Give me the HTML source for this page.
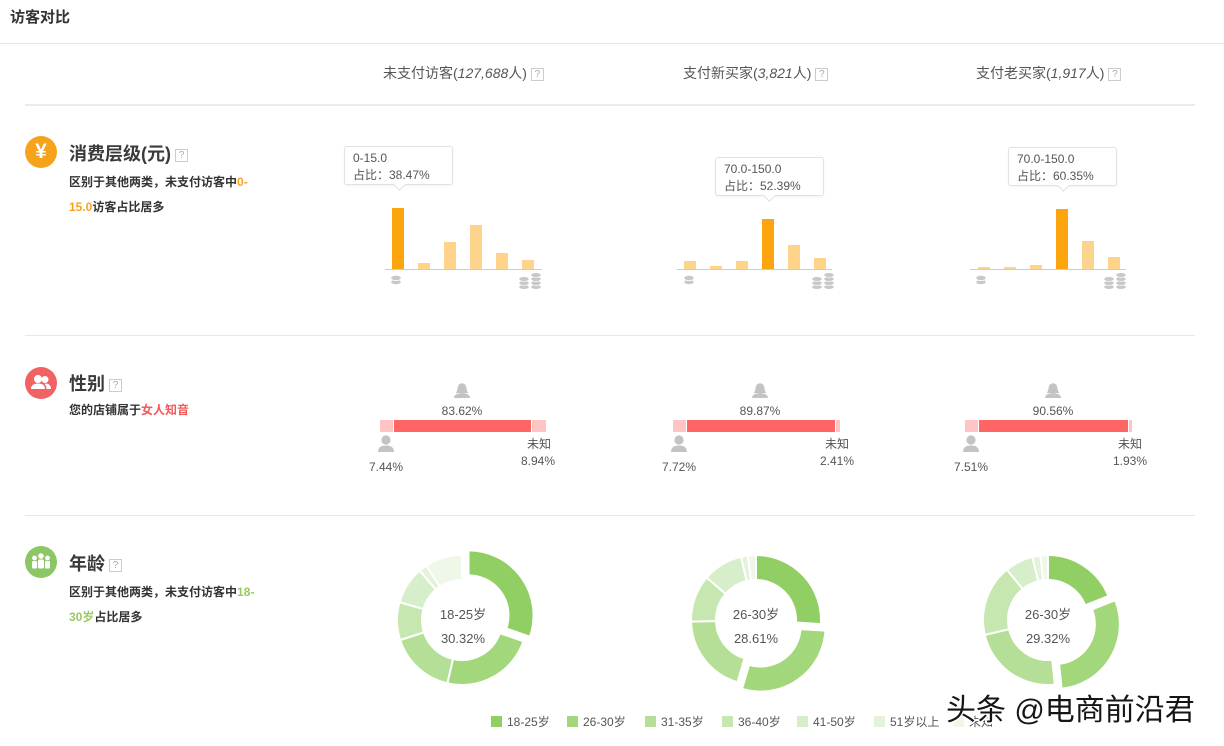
<!DOCTYPE html>
<html><head><meta charset="utf-8">
<style>
body{margin:0;width:1224px;height:746px;position:relative;background:#fff;font-family:"Liberation Sans","Noto Sans CJK SC",sans-serif;overflow:hidden;color:#555}
.a{position:absolute;white-space:nowrap}
.q{display:inline-block;width:11px;height:11px;border:1px solid #ccc;font-size:10px;line-height:11px;text-align:center;color:#aaa;vertical-align:middle;margin-left:4px;font-style:normal;font-weight:normal}
.hd{font-size:14px;line-height:16px;color:#555}
.hd i{font-style:italic}
.hr{position:absolute;left:25px;width:1170px;height:1px;background:#e8e8e8}
.ic{position:absolute;left:25px;width:32px;height:32px;border-radius:50%}
.h2{font-size:18px;line-height:22px;color:#3a3a3a;font-weight:bold}
.ds{font-size:12px;line-height:25px;color:#333;font-weight:bold}
.bar{position:absolute;width:12px;background:#fed38b}
.bar.h{background:#fca50f}
.ax{position:absolute;height:1px;background:#ccc;top:269px}
.tip{position:absolute;width:107px;height:37px;border:1px solid #e2e2e2;border-radius:3px;background:#fff;font-size:12px;line-height:17px;color:#555;padding:0;box-shadow:0 1px 2px rgba(0,0,0,0.05)}
.tip div{padding-left:8px}
.tip .pt{position:absolute;bottom:-5px;width:8px;height:8px;background:#fff;border-right:1px solid #e2e2e2;border-bottom:1px solid #e2e2e2;transform:rotate(45deg);padding:0}
.gb{position:absolute;top:420px;height:12px}
.pk{background:#ffc4c4}
.rd{background:#ff6565}
.gt{font-size:12px;line-height:14px;color:#555;text-align:center;width:60px}
.ct{font-size:13px;line-height:16px;color:#555;text-align:center;width:80px}
.lg{font-size:12px;line-height:14px;color:#555}
.sq{position:absolute;width:11px;height:11px;top:716px}
</style></head>
<body>
<div class="a" style="left:10px;top:8px;font-size:15px;line-height:20px;font-weight:bold;color:#333">访客对比</div>
<div class="a" style="left:0;top:43px;width:1224px;height:1px;background:#e6e6e6"></div>

<div class="a hd" style="left:383px;top:65px">未支付访客(<i>127,688</i>人)<span class="q">?</span></div>
<div class="a hd" style="left:683px;top:65px">支付新买家(<i>3,821</i>人)<span class="q">?</span></div>
<div class="a hd" style="left:976px;top:65px">支付老买家(<i>1,917</i>人)<span class="q">?</span></div>
<div class="hr" style="top:104px;height:2px;background:#ebebeb"></div>

<!-- Section 1 -->
<div class="ic" style="top:136px;background:#f7a21b"></div>
<div class="a" style="left:25px;top:136px;width:32px;text-align:center;font-size:21px;line-height:32px;color:#fff;font-weight:bold">¥</div>
<div class="a h2" style="left:69px;top:143px">消费层级(元)<span class="q">?</span></div>
<div class="a ds" style="left:69px;top:170px">区别于其他两类，未支付访客中<span style="color:#f7a21b">0-</span><br><span style="color:#f7a21b">15.0</span>访客占比居多</div>

<div class="ax" style="left:385px;width:157px"></div>
<div class="bar h" style="left:392px;top:208px;height:61px"></div>
<div class="bar" style="left:418px;top:263px;height:6px"></div>
<div class="bar" style="left:444px;top:242px;height:27px"></div>
<div class="bar" style="left:470px;top:225px;height:44px"></div>
<div class="bar" style="left:496px;top:253px;height:16px"></div>
<div class="bar" style="left:522px;top:260px;height:9px"></div>
<div class="tip" style="left:344px;top:146px"><div style="padding-top:3px">0-15.0</div><div>占比：38.47%</div><div class="pt" style="left:50px"></div></div>

<div class="ax" style="left:677px;width:155px"></div>
<div class="bar" style="left:684px;top:261px;height:8px"></div>
<div class="bar" style="left:710px;top:266px;height:3px"></div>
<div class="bar" style="left:736px;top:261px;height:8px"></div>
<div class="bar h" style="left:762px;top:219px;height:50px"></div>
<div class="bar" style="left:788px;top:245px;height:24px"></div>
<div class="bar" style="left:814px;top:258px;height:11px"></div>
<div class="tip" style="left:715px;top:157px"><div style="padding-top:3px">70.0-150.0</div><div>占比：52.39%</div><div class="pt" style="left:49px"></div></div>

<div class="ax" style="left:970px;width:156px"></div>
<div class="bar" style="left:978px;top:267px;height:2px"></div>
<div class="bar" style="left:1004px;top:267px;height:2px"></div>
<div class="bar" style="left:1030px;top:265px;height:4px"></div>
<div class="bar h" style="left:1056px;top:209px;height:60px"></div>
<div class="bar" style="left:1082px;top:241px;height:28px"></div>
<div class="bar" style="left:1108px;top:257px;height:12px"></div>
<div class="tip" style="left:1008px;top:147px"><div style="padding-top:3px">70.0-150.0</div><div>占比：60.35%</div><div class="pt" style="left:50px"></div></div>

<svg class="a" style="left:0;top:0" width="1224" height="300">
<defs>
<g id="c1" fill="#c8c8c8" stroke="#fff" stroke-width="0.8"><ellipse cx="5" cy="7" rx="5.2" ry="2.6"/><ellipse cx="5" cy="3" rx="5.2" ry="2.6"/></g>
<g id="c2" fill="#c8c8c8" stroke="#fff" stroke-width="0.8">
<ellipse cx="5" cy="15" rx="5.2" ry="2.4"/><ellipse cx="5" cy="11" rx="5.2" ry="2.4"/><ellipse cx="5" cy="7" rx="5.2" ry="2.4"/>
<ellipse cx="17" cy="15" rx="5.2" ry="2.4"/><ellipse cx="17" cy="11" rx="5.2" ry="2.4"/><ellipse cx="17" cy="7" rx="5.2" ry="2.4"/><ellipse cx="17" cy="3" rx="5.2" ry="2.4"/></g>
</defs>
<use href="#c1" x="391" y="275"/><use href="#c2" x="519" y="272"/>
<use href="#c1" x="684" y="275"/><use href="#c2" x="812" y="272"/>
<use href="#c1" x="976" y="275"/><use href="#c2" x="1104" y="272"/>
</svg>

<div class="hr" style="top:335px"></div>

<!-- Section 2 -->
<div class="ic" style="top:367px;background:#f26262"></div>
<svg class="a" style="left:25px;top:367px" width="32" height="32">
<circle cx="13" cy="12" r="4" fill="#fff"/><path d="M6 22 Q6 16.5 13 16.5 Q20 16.5 20 22 Z" fill="#fff"/>
<circle cx="20" cy="12.5" r="3.5" fill="#fff"/><path d="M21 16.5 Q26 17 26 22 L21.5 22 Q21.5 18.5 19.5 17 Z" fill="#fff"/>
</svg>
<div class="a h2" style="left:69px;top:373px">性别<span class="q">?</span></div>
<div class="a ds" style="left:69px;top:398px">您的店铺属于<span style="color:#f25a5a">女人知音</span></div>

<svg class="a" style="left:0;top:370px" width="1224" height="90">
<defs>
<g id="fm"><circle cx="8" cy="5.5" r="4.3" fill="#c3c3c3"/><path d="M3.5 6 Q3 10 1.5 11 L14.5 11 Q13 10 12.5 6 Z" fill="#c3c3c3"/><path d="M0 16 Q0 11.5 8 11 Q16 11.5 16 16 Z" fill="#c3c3c3"/></g>
<g id="ml"><circle cx="8" cy="5" r="4.6" fill="#c3c3c3"/><path d="M0 17 Q0 10.5 8 10.5 Q16 10.5 16 17 Z" fill="#c3c3c3"/></g>
</defs>
<use href="#fm" x="454" y="12"/><use href="#ml" x="378" y="65"/>
<use href="#fm" x="752" y="12"/><use href="#ml" x="671" y="65"/>
<use href="#fm" x="1045" y="12"/><use href="#ml" x="963" y="65"/>
</svg>

<div class="gb pk" style="left:380px;width:12.5px"></div>
<div class="gb rd" style="left:393.5px;width:137.5px"></div>
<div class="gb pk" style="left:532px;width:14px"></div>
<div class="a gt" style="left:432px;top:404px">83.62%</div>
<div class="a gt" style="left:356px;top:460px">7.44%</div>
<div class="a gt" style="left:509px;top:437px">未知</div>
<div class="a gt" style="left:508px;top:454px">8.94%</div>

<div class="gb pk" style="left:673px;width:12.8px"></div>
<div class="gb rd" style="left:686.8px;width:148.2px"></div>
<div class="gb pk" style="left:836px;width:4px"></div>
<div class="a gt" style="left:730px;top:404px">89.87%</div>
<div class="a gt" style="left:649px;top:460px">7.72%</div>
<div class="a gt" style="left:807px;top:437px">未知</div>
<div class="a gt" style="left:807px;top:454px">2.41%</div>

<div class="gb pk" style="left:965px;width:12.5px"></div>
<div class="gb rd" style="left:978.5px;width:149.5px"></div>
<div class="gb pk" style="left:1129px;width:3px"></div>
<div class="a gt" style="left:1023px;top:404px">90.56%</div>
<div class="a gt" style="left:941px;top:460px">7.51%</div>
<div class="a gt" style="left:1100px;top:437px">未知</div>
<div class="a gt" style="left:1100px;top:454px">1.93%</div>

<div class="hr" style="top:515px"></div>

<!-- Section 3 -->
<div class="ic" style="top:546px;background:#8cc665"></div>
<svg class="a" style="left:25px;top:546px" width="32" height="32">
<circle cx="16" cy="10" r="2.8" fill="#fff"/><rect x="13" y="13.5" width="6" height="9" rx="1.5" fill="#fff"/>
<circle cx="9.5" cy="12" r="2.4" fill="#fff"/><rect x="7" y="15" width="5" height="7.5" rx="1.3" fill="#fff"/>
<circle cx="22.5" cy="12" r="2.4" fill="#fff"/><rect x="20" y="15" width="5" height="7.5" rx="1.3" fill="#fff"/>
</svg>
<div class="a h2" style="left:69px;top:553px">年龄<span class="q">?</span></div>
<div class="a ds" style="left:69px;top:580px">区别于其他两类，未支付访客中<span style="color:#9bc862">18-</span><br><span style="color:#9bc862">30岁</span>占比居多</div>

<svg id="dn" class="a" style="left:0;top:0" width="1224" height="746"></svg>

<div class="a ct" style="left:423px;top:607px">18-25岁</div>
<div class="a ct" style="left:423px;top:631px">30.32%</div>
<div class="a ct" style="left:716px;top:607px">26-30岁</div>
<div class="a ct" style="left:716px;top:631px">28.61%</div>
<div class="a ct" style="left:1008px;top:607px">26-30岁</div>
<div class="a ct" style="left:1008px;top:631px">29.32%</div>

<div class="sq" style="left:491px;background:#91ce63"></div><div class="a lg" style="left:507px;top:715px">18-25岁</div>
<div class="sq" style="left:567px;background:#a3d77b"></div><div class="a lg" style="left:583px;top:715px">26-30岁</div>
<div class="sq" style="left:645px;background:#b5df96"></div><div class="a lg" style="left:661px;top:715px">31-35岁</div>
<div class="sq" style="left:722px;background:#c6e7b0"></div><div class="a lg" style="left:738px;top:715px">36-40岁</div>
<div class="sq" style="left:797px;background:#d6efca"></div><div class="a lg" style="left:813px;top:715px">41-50岁</div>
<div class="sq" style="left:874px;background:#e3f2d9"></div><div class="a lg" style="left:890px;top:715px">51岁以上</div>
<div class="sq" style="left:953px;background:#eef7e8"></div><div class="a lg" style="left:969px;top:715px">未知</div>

<div class="a" style="left:946px;top:691px;font-size:30px;line-height:40px;color:#151515;text-shadow:1px 1px 0 #fff,-1px -1px 0 #fff,1px -1px 0 #fff,-1px 1px 0 #fff,0 2px 0 #fff,2px 0 0 #fff,0 -2px 0 #fff,-2px 0 0 #fff">头条 @电商前沿君</div>

<script>
(function(){
var cols=['#91ce63','#a3d77b','#b5df96','#c6e7b0','#d6efca','#e3f2d9','#eef7e8'];
var ds=[{cx:462,cy:620,v:[30.32,23.3,16.4,9.4,9.3,2.0,9.28],e:0},
{cx:756,cy:620,v:[26.0,28.61,20.0,11.7,10.0,1.7,2.0],e:1},
{cx:1048,cy:620,v:[19.0,29.32,23.0,17.8,7.0,2.0,1.88],e:1}];
var R=65,r=40,svg=document.getElementById('dn'),ns='http://www.w3.org/2000/svg';
function pt(cx,cy,rad,a){var t=a*Math.PI/180;return [cx+rad*Math.sin(t),cy-rad*Math.cos(t)];}
ds.forEach(function(d){
var tot=d.v.reduce(function(s,x){return s+x;},0),a=0;
d.v.forEach(function(v,i){
var sw=v/tot*360,a0=a,a1=a+sw;a=a1;
var cx=d.cx,cy=d.cy;
if(i===d.e){var m=(a0+a1)/2*Math.PI/180;cx+=8*Math.sin(m);cy-=8*Math.cos(m);}
var lg=sw>180?1:0;
var p1=pt(cx,cy,R,a0),p2=pt(cx,cy,R,a1),p3=pt(cx,cy,r,a1),p4=pt(cx,cy,r,a0);
var dd='M'+p1[0]+' '+p1[1]+' A'+R+' '+R+' 0 '+lg+' 1 '+p2[0]+' '+p2[1]+' L'+p3[0]+' '+p3[1]+' A'+r+' '+r+' 0 '+lg+' 0 '+p4[0]+' '+p4[1]+' Z';
var el=document.createElementNS(ns,'path');
el.setAttribute('d',dd);el.setAttribute('fill',cols[i]);el.setAttribute('stroke','#fff');el.setAttribute('stroke-width','2');
svg.appendChild(el);
});
});
})();
</script>
</body></html>
